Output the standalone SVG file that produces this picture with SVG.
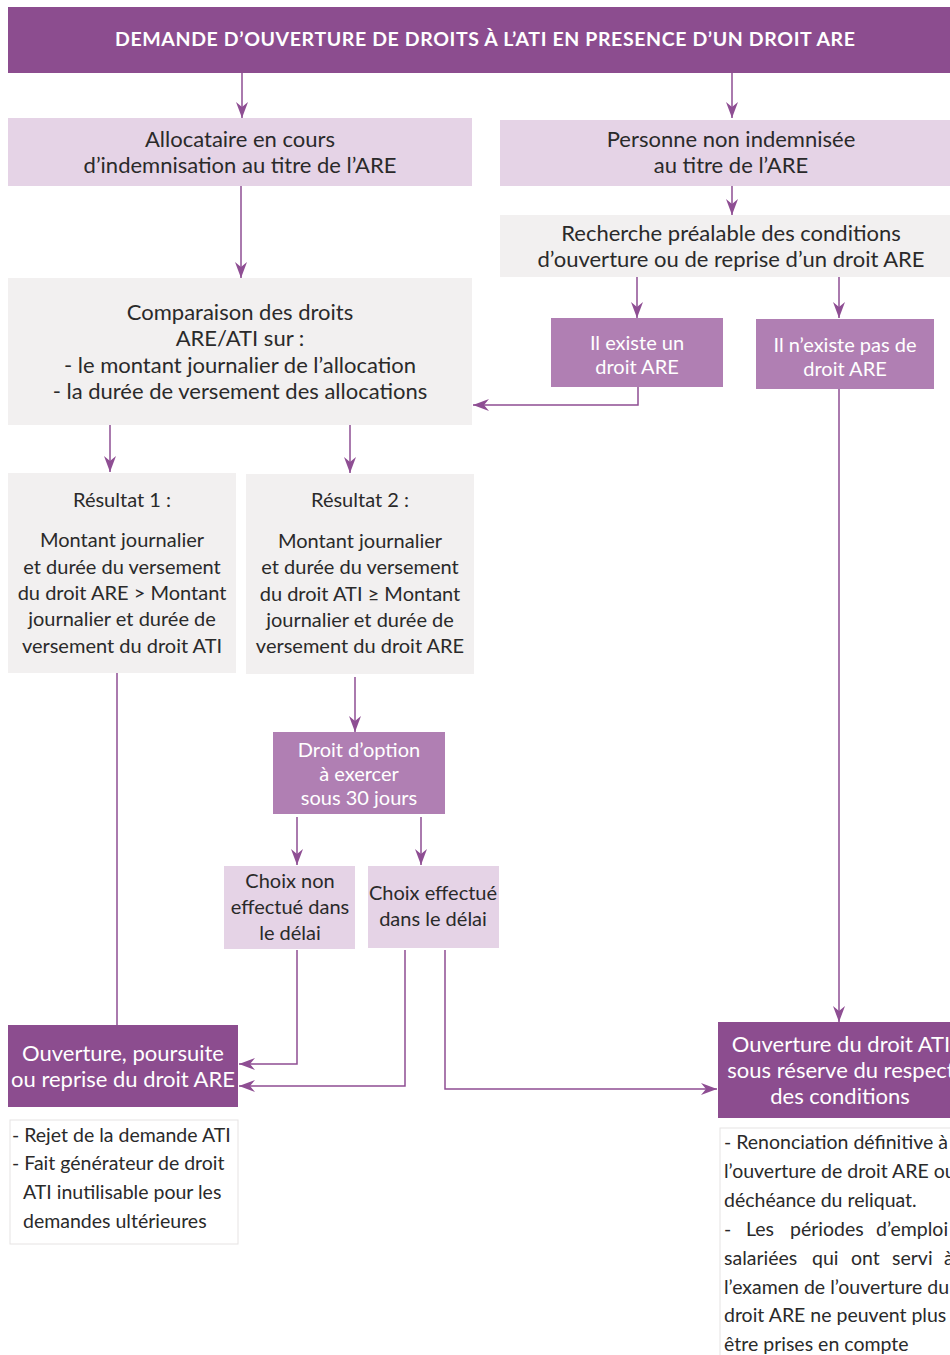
<svg xmlns="http://www.w3.org/2000/svg" width="950" height="1355" viewBox="0 0 950 1355">
<style>
.t{font-family:Lato,"Open Sans","Liberation Sans",sans-serif;font-size:22px;fill:#2a2a2a;text-anchor:middle;dominant-baseline:central}
.s{font-size:20px}
.w{fill:#ffffff}
.n{font-family:Lato,"Open Sans","Liberation Sans",sans-serif;font-size:19.5px;fill:#2a2a2a;dominant-baseline:central}
.h{font-family:Lato,"Open Sans","Liberation Sans",sans-serif;font-size:19.5px;font-weight:bold;fill:#ffffff;dominant-baseline:central}
.dark{fill:#8C4D8F}
.mid{fill:#B07FB3}
.lil{fill:#E5D3E6}
.gray{fill:#F2F0F0}
.note{fill:#ffffff;stroke:#E6E3E3;stroke-width:1}
.c{fill:none;stroke:#8E4E93;stroke-width:1.5}
</style>
<defs>
<marker id="arr" viewBox="0 0 16 12" refX="16" refY="6" markerWidth="16" markerHeight="12" orient="auto" markerUnits="userSpaceOnUse">
<path d="M0,0 L16,6 L0,12 L5,6 z" fill="#8E4E93"/>
</marker>
</defs>
<rect width="950" height="1355" fill="#ffffff"/>

<g id="connectors">
<path class="c" d="M242,73 V118" marker-end="url(#arr)"/>
<path class="c" d="M732,73 V118" marker-end="url(#arr)"/>
<path class="c" d="M241,186 V278" marker-end="url(#arr)"/>
<path class="c" d="M732,186 V215" marker-end="url(#arr)"/>
<path class="c" d="M637,277 V318" marker-end="url(#arr)"/>
<path class="c" d="M839,277 V318" marker-end="url(#arr)"/>
<path class="c" d="M638,387 V405 H473" marker-end="url(#arr)"/>
<path class="c" d="M110,425 V472" marker-end="url(#arr)"/>
<path class="c" d="M350,425 V473" marker-end="url(#arr)"/>
<path class="c" d="M117,673 V1025"/>
<path class="c" d="M355,677 V732" marker-end="url(#arr)"/>
<path class="c" d="M297,817 V865" marker-end="url(#arr)"/>
<path class="c" d="M421,817 V865" marker-end="url(#arr)"/>
<path class="c" d="M297,950 V1064 H239" marker-end="url(#arr)"/>
<path class="c" d="M405,950 V1086 H239" marker-end="url(#arr)"/>
<path class="c" d="M445,950 V1089 H717" marker-end="url(#arr)"/>
<path class="c" d="M839,389 V1022" marker-end="url(#arr)"/>
</g>

<g id="header">
<rect class="dark" x="8" y="7" width="942" height="66"/>
<text class="h" x="115" y="38" textLength="740" lengthAdjust="spacing">DEMANDE D’OUVERTURE DE DROITS À L’ATI EN PRESENCE D’UN DROIT ARE</text>
</g>

<g id="allocataire">
<rect class="lil" x="8" y="118" width="464" height="68"/>
<text class="t" x="240" y="138">Allocataire en cours</text>
<text class="t" x="240" y="164">d’indemnisation au titre de l’ARE</text>
</g>

<g id="personne">
<rect class="lil" x="500" y="120" width="450" height="66"/>
<text class="t" x="731" y="138">Personne non indemnisée</text>
<text class="t" x="731" y="164">au titre de l’ARE</text>
</g>

<g id="recherche">
<rect class="gray" x="500" y="215" width="450" height="62"/>
<text class="t" x="731" y="232">Recherche préalable des conditions</text>
<text class="t" x="731" y="258">d’ouverture ou de reprise d’un droit ARE</text>
</g>

<g id="comparaison">
<rect class="gray" x="8" y="278" width="464" height="147"/>
<text class="t" x="240" y="311">Comparaison des droits</text>
<text class="t" x="240" y="337">ARE/ATI sur :</text>
<text class="t" x="240" y="364">- le montant journalier de l’allocation</text>
<text class="t" x="240" y="390">- la durée de versement des allocations</text>
</g>

<g id="existe">
<rect class="mid" x="551" y="318" width="172" height="69"/>
<text class="t s w" x="637" y="342">Il existe un</text>
<text class="t s w" x="637" y="366">droit ARE</text>
</g>

<g id="nexiste">
<rect class="mid" x="756" y="319" width="178" height="70"/>
<text class="t s w" x="845" y="344">Il n’existe pas de</text>
<text class="t s w" x="845" y="368">droit ARE</text>
</g>

<g id="resultat1">
<rect class="gray" x="8" y="473" width="228" height="200"/>
<text class="t s" x="122" y="499">Résultat 1 :</text>
<text class="t s" x="122" y="539">Montant journalier</text>
<text class="t s" x="122" y="566">et durée du versement</text>
<text class="t s" x="122" y="592">du droit ARE &gt; Montant</text>
<text class="t s" x="122" y="618">journalier et durée de</text>
<text class="t s" x="122" y="645">versement du droit ATI</text>
</g>

<g id="resultat2">
<rect class="gray" x="246" y="474" width="228" height="200"/>
<text class="t s" x="360" y="499">Résultat 2 :</text>
<text class="t s" x="360" y="540">Montant journalier</text>
<text class="t s" x="360" y="566">et durée du versement</text>
<text class="t s" x="360" y="593">du droit ATI ≥ Montant</text>
<text class="t s" x="360" y="619">journalier et durée de</text>
<text class="t s" x="360" y="645">versement du droit ARE</text>
</g>

<g id="option">
<rect class="mid" x="273" y="732" width="172" height="82"/>
<text class="t s w" x="359" y="749">Droit d’option</text>
<text class="t s w" x="359" y="773">à exercer</text>
<text class="t s w" x="359" y="797">sous 30 jours</text>
</g>

<g id="choixnon">
<rect class="lil" x="224" y="866" width="131" height="83"/>
<text class="t s" x="290" y="880">Choix non</text>
<text class="t s" x="290" y="906">effectué dans</text>
<text class="t s" x="290" y="932">le délai</text>
</g>

<g id="choixeff">
<rect class="lil" x="368" y="866" width="131" height="82"/>
<text class="t s" x="433" y="892">Choix effectué</text>
<text class="t s" x="433" y="918">dans le délai</text>
</g>

<g id="ouvertureARE">
<rect class="dark" x="8" y="1025" width="230" height="82"/>
<text class="t w" x="123" y="1052">Ouverture, poursuite</text>
<text class="t w" x="123" y="1078">ou reprise du droit ARE</text>
</g>

<g id="noteARE">
<rect class="note" x="10" y="1120" width="228" height="124"/>
<text class="n" x="12" y="1134">- Rejet de la demande ATI</text>
<text class="n" x="12" y="1162">- Fait générateur de droit</text>
<text class="n" x="23" y="1191">ATI inutilisable pour les</text>
<text class="n" x="23" y="1220">demandes ultérieures</text>
</g>

<g id="ouvertureATI">
<rect class="dark" x="718" y="1022" width="232" height="96"/>
<text class="t w" x="841" y="1043">Ouverture du droit ATI</text>
<text class="t w" x="841" y="1069">sous réserve du respect</text>
<text class="t w" x="840" y="1095">des conditions</text>
</g>

<g id="noteATI">
<rect class="note" x="720" y="1128" width="240" height="240"/>
<text class="n" x="724" y="1141">- Renonciation définitive à</text>
<text class="n" x="724" y="1170">l’ouverture de droit ARE ou</text>
<text class="n" x="724" y="1199">déchéance du reliquat.</text>
<text class="n" y="1228"><tspan x="724">-</tspan><tspan x="746">Les</tspan><tspan x="790">périodes</tspan><tspan x="876">d’emploi</tspan></text>
<text class="n" y="1257"><tspan x="724">salariées</tspan><tspan x="812">qui</tspan><tspan x="851">ont</tspan><tspan x="892">servi</tspan><tspan x="944">à</tspan></text>
<text class="n" x="724" y="1286">l’examen de l’ouverture du</text>
<text class="n" x="724" y="1314">droit ARE ne peuvent plus</text>
<text class="n" x="724" y="1343">être prises en compte</text>
</g>
</svg>
